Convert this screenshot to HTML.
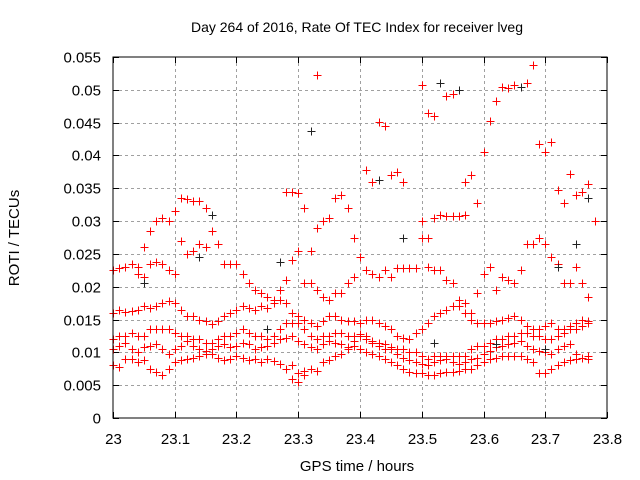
<!DOCTYPE html>
<html><head><meta charset="utf-8"><style>
body{margin:0;background:#fff}
svg{display:block;font-family:"Liberation Sans",sans-serif}
</style></head><body>
<svg id="chart" width="640" height="480" viewBox="0 0 640 480">
<text x="357" y="32" font-size="14" text-anchor="middle">Day 264 of 2016, Rate Of TEC Index for receiver lveg</text>
<text x="357" y="471" font-size="15" text-anchor="middle">GPS time / hours</text>
<text transform="translate(19,238) rotate(-90)" font-size="15" text-anchor="middle">ROTI / TECUs</text>
<g id="grid"></g>
<g id="ticks"></g>
<g id="marks"></g>
<rect x="113" y="57" width="494" height="361" fill="none" stroke="#000" stroke-width="1"/>
</svg>
<script>
const xTicks=[23,23.1,23.2,23.3,23.4,23.5,23.6,23.7,23.8];
const xTickLabels=["23","23.1","23.2","23.3","23.4","23.5","23.6","23.7","23.8"];
const yTicks=[0,0.005,0.01,0.015,0.02,0.025,0.03,0.035,0.04,0.045,0.05,0.055];
const yTickLabels=["0","0.005","0.01","0.015","0.02","0.025","0.03","0.035","0.04","0.045","0.05","0.055"];
const times=[23.00,23.01,23.02,23.03,23.04,23.05,23.06,23.07,23.08,23.09,23.10,23.11,23.12,23.13,23.14,23.15,23.16,23.17,23.18,23.19,23.20,23.21,23.22,23.23,23.24,23.25,23.26,23.27,23.28,23.29,23.30,23.31,23.32,23.33,23.34,23.35,23.36,23.37,23.38,23.39,23.40,23.41,23.42,23.43,23.44,23.45,23.46,23.47,23.48,23.49,23.50,23.51,23.52,23.53,23.54,23.55,23.56,23.57,23.58,23.59,23.60,23.61,23.62,23.63,23.64,23.65,23.66,23.67,23.68,23.69,23.70,23.71,23.72,23.73,23.74,23.75,23.76,23.77];
const band1=[.0225,.0228,.023,.0235,.022,.0215,.0235,.0237,.0235,.0225,.022,.027,.025,.0255,.0265,.026,.0285,.0265,.0235,.0235,.0235,.022,.0205,.0195,.019,.0185,.018,.0195,.021,.024,.0255,.0205,.0205,.0195,.0185,.018,.019,.019,.0205,.0215,.0245,.0225,.022,.0215,.0225,.0215,.0228,.0228,.0228,.0228,.0275,.023,.0225,.0225,.021,.0205,.018,.0175,.016,.019,.022,.023,.0195,.0215,.021,.0205,.0225,.0265,.0265,.0275,.0265,.0245,.0235,.0205,.0205,.023,.0205,.0185];
const band2=[.016,.0165,.0162,.0163,.0165,.017,.0168,.017,.0175,.0178,.0175,.0165,.0155,.0155,.015,.0148,.0143,.0148,.0155,.016,.0165,.017,.0168,.0165,.017,.0168,.0175,.018,.0175,.016,.0155,.015,.0145,.014,.0148,.0155,.0155,.015,.0148,.0148,.0145,.015,.015,.0145,.014,.0135,.0125,.0122,.012,.013,.0135,.0145,.0155,.016,.0165,.017,.017,.016,.015,.0145,.0145,.0145,.0148,.015,.0152,.0155,.015,.014,.0135,.0135,.014,.0145,.0135,.0135,.014,.0145,.015,.0148];
const band3=[.012,.0125,.0125,.013,.0125,.0125,.0135,.0135,.0135,.0135,.013,.0125,.0125,.012,.012,.0115,.0115,.012,.0125,.0125,.013,.0135,.013,.0125,.0125,.012,.0125,.0135,.0145,.0145,.0145,.0135,.0125,.012,.0125,.0125,.013,.013,.0125,.0125,.0125,.012,.0115,.011,.0105,.0105,.0105,.0105,.01,.01,.0095,.009,.0095,.0095,.0095,.0095,.0095,.0095,.0105,.011,.011,.0115,.012,.012,.0125,.0125,.013,.013,.0125,.0125,.012,.012,.0125,.013,.0135,.0135,.014,.0145];
const band4=[.008,.0078,.009,.009,.0085,.0088,.0075,.007,.0065,.0075,.0085,.0088,.009,.0092,.0095,.0098,.0097,.0092,.0088,.009,.0095,.0092,.0088,.009,.0085,.009,.0087,.0082,.0075,.008,.0068,.0072,.0075,.0072,.0085,.0088,.0095,.0098,.0105,.011,.0105,.01,.0098,.0095,.009,.0085,.008,.0075,.007,.0068,.0068,.0065,.0065,.0068,.007,.007,.0072,.0075,.0075,.008,.0085,.009,.0092,.0095,.0095,.0095,.0095,.009,.0085,.0068,.0068,.0075,.008,.0085,.0088,.009,.0092,.0095];
const band5=[.0105,.011,.0115,.0105,.01,.0108,.011,.0112,.0105,.0098,.0105,.011,.0118,.011,.0105,.0102,.0105,.011,.0112,.0108,.011,.0115,.0112,.0105,.0108,.011,.0115,.012,.0122,.0125,.0118,.0112,.0108,.0105,.0112,.0118,.0115,.0112,.0108,.0118,.0128,.0125,.0118,.0115,.0112,.0108,.0098,.0092,.0088,.0085,.0082,.008,.0085,.0088,.009,.0085,.0082,.0085,.009,.0092,.0098,.0102,.0108,.011,.0112,.0115,.0118,.011,.0105,.0102,.01,.0098,.0105,.011,.0112,.0098,.0092,.009];
const extraX=[23.04,23.05,23.06,23.07,23.08,23.09,23.10,23.11,23.12,23.13,23.14,23.15,23.16,23.28,23.29,23.30,23.31,23.32,23.33,23.34,23.35,23.36,23.37,23.38,23.39,23.33,23.32,23.43,23.44,23.41,23.42,23.45,23.46,23.47,23.50,23.51,23.52,23.53,23.54,23.55,23.56,23.57,23.58,23.59,23.60,23.61,23.62,23.63,23.64,23.65,23.66,23.67,23.68,23.69,23.70,23.71,23.72,23.73,23.74,23.75,23.76,23.77,23.78,23.50,23.51,23.52,23.53,23.54,23.55,23.56,23.57,23.29,23.30,23.31];
const extraY=[.023,.026,.0285,.03,.0305,.03,.0315,.0335,.0333,.0331,.033,.032,.031,.0345,.0345,.0343,.032,.0255,.029,.03,.0305,.0335,.034,.032,.0275,.0522,.0438,.0451,.0445,.0378,.036,.037,.0375,.036,.0507,.0465,.046,.051,.049,.0493,.05,.036,.037,.0327,.0406,.0453,.0483,.0505,.0503,.0507,.0505,.051,.0538,.0417,.0405,.042,.0348,.0328,.0372,.034,.0345,.0357,.030,.030,.0275,.0305,.031,.0307,.0307,.0308,.031,.006,.0055,.0065];
const blackX=[23.32,23.53,23.56,23.16,23.27,23.66,23.72,23.75,23.77,23.43,23.05,23.14,23.25,23.52,23.62,23.70,23.47];
const blackY=[.0438,.051,.05,.031,.0238,.0505,.023,.0265,.0335,.0362,.0205,.0245,.0135,.0115,.0112,.0105,.0275];

const X0=113,X1=607,Y0=418,Y1=57;
const sx=v=>X0+(v-23)/0.8*(X1-X0);
const sy=v=>Y0-(v/0.055)*(Y0-Y1);
const NS="http://www.w3.org/2000/svg";
function mk(tag,attrs,parent){const e=document.createElementNS(NS,tag);for(const k in attrs)e.setAttribute(k,attrs[k]);parent.appendChild(e);return e;}
const grid=document.getElementById('grid'),ticks=document.getElementById('ticks'),marks=document.getElementById('marks');
xTicks.forEach((t,i)=>{const x=Math.round(sx(t))+0.5;
 if(i>0&&i<xTicks.length-1){const g=mk('line',{x1:x,x2:x,y1:Y1,y2:Y0,stroke:'#a0a0a0','stroke-dasharray':'3,3'},grid);
 
 }
 mk('line',{x1:x,x2:x,y1:Y0,y2:Y0-6,stroke:'#000'},ticks);mk('line',{x1:x,x2:x,y1:Y1,y2:Y1+6,stroke:'#000'},ticks);
 const l=mk('text',{x:x,y:444,'font-size':15,'text-anchor':'middle'},ticks);l.textContent=xTickLabels[i];
 
 });
yTicks.forEach((t,i)=>{const y=Math.round(sy(t))+0.5;
 if(i>0&&i<yTicks.length-1){const g=mk('line',{x1:X0,x2:X1,y1:y,y2:y,stroke:'#a0a0a0','stroke-dasharray':'3,3'},grid);
 
 }
 mk('line',{x1:X0,x2:X0+6,y1:y,y2:y,stroke:'#000'},ticks);mk('line',{x1:X1,x2:X1-6,y1:y,y2:y,stroke:'#000'},ticks);
 const l=mk('text',{x:101,y:y+5,'font-size':15,'text-anchor':'end'},ticks);l.textContent=yTickLabels[i];
 
 });
function plus(x,y,c){const px=Math.round(sx(x))+0.5,py=Math.round(sy(y))+0.5;
 const p=mk('path',{d:`M${px-4},${py}H${px+4}M${px},${py-4}V${py+4}`,stroke:c,'stroke-width':1,fill:'none'},marks);
 
 }
[band1,band2,band3,band4,band5].forEach(b=>b.forEach((v,i)=>{if(v!=null)plus(times[i],v,'#ff0000');}));
extraX.forEach((x,i)=>plus(x,extraY[i],'#ff0000'));
blackX.forEach((x,i)=>plus(x,blackY[i],'#222'));
</script>
</body></html>
